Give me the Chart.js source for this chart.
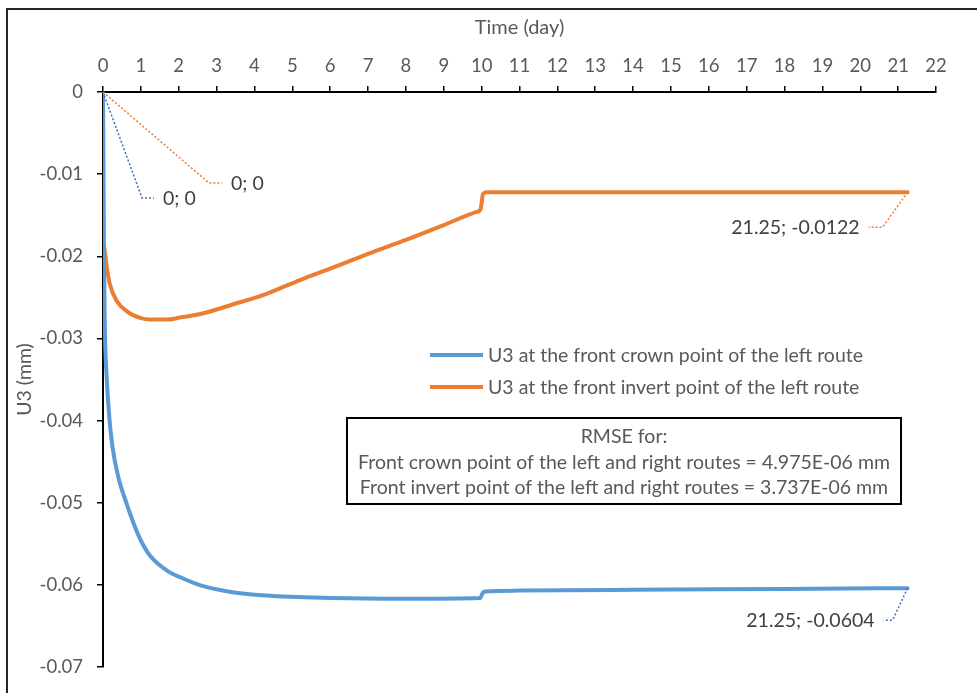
<!DOCTYPE html>
<html>
<head>
<meta charset="utf-8">
<script src="https://cdn.jsdelivr.net/npm/chart.js@4"></script>
<style>
  body { margin: 0; background: #fff; }
  canvas { display: block; }
</style>
</head>
<body>
<canvas id="chart" width="977" height="693"></canvas>
<script>
// values (time in days, U3 in mm)
const crownTime = [0, 0.02, 0.05, 0.1, 0.17, 0.25, 0.4, 0.63, 0.8, 1, 1.25, 1.7, 2.1, 2.6, 3.3, 4.3, 6, 8, 9.96, 10.04, 10.12, 11, 14, 18, 21.25];
const crownU3 = [0, -0.018, -0.029, -0.035, -0.0398, -0.0432, -0.0468, -0.0502, -0.0524, -0.0546, -0.0565, -0.0583, -0.0592, -0.0601, -0.0608, -0.0613, -0.0616, -0.0617, -0.0616, -0.0609, -0.0608, -0.0607, -0.0606, -0.0605, -0.0604];

const invertTime = [0, 0.005, 0.01, 0.035, 0.1, 0.18, 0.36, 0.63, 0.98, 1.25, 1.7, 2.1, 2.6, 3.4, 4.3, 5.2, 6, 7, 8, 9, 9.87, 9.97, 10.0, 10.03, 10.13, 12, 15, 18, 21.25];
const invertU3 = [0, -0.01, -0.0165, -0.019, -0.0213, -0.0234, -0.0254, -0.0267, -0.0275, -0.0277, -0.0277, -0.0274, -0.027, -0.0259, -0.0246, -0.0229, -0.0215, -0.0197, -0.018, -0.0162, -0.0146, -0.0143, -0.0135, -0.0125, -0.0122, -0.0122, -0.0122, -0.0122, -0.0122];

const seriesNames = ['U3 at the front crown point of the left route', 'U3 at the front invert point of the left route'];
const rmseLines = ['RMSE for:', 'Front crown point of the left and right routes = 4.975E-06 mm', 'Front invert point of the left and right routes = 3.737E-06 mm'];

const BLUE = '#5B9BD5';
const ORANGE = '#ED7D31';
const FONT = 'Lato, "Open Sans", sans-serif';
const GREY = '#595959';

function toPoints(xs, ys) {
    return xs.map((x, i) => ({ x: x, y: ys[i] }));
}

// Excel-style data labels on first/last points, legend and the RMSE box
const overlay = {
    id: 'overlay',
    beforeDraw(chart) {
        const ctx = chart.ctx;
        ctx.save();
        ctx.fillStyle = '#fff';
        ctx.fillRect(0, 0, chart.width, chart.height);
        ctx.strokeStyle = '#262626';
        ctx.lineWidth = 2;
        ctx.strokeRect(7, 9, 990, 700);
        ctx.restore();
    },
    afterDatasetsDraw(chart) {
        const ctx = chart.ctx;
        ctx.save();
        ctx.font = '19.5px ' + FONT;
        ctx.textBaseline = 'middle';

        const labels = [
            { ds: 0, idx: 0, dx: 39, dy: 106, len: 12, side: 'right', color: '#4472C4' },
            { ds: 1, idx: 0, dx: 106, dy: 91, len: 13, side: 'right', color: ORANGE },
            { ds: 1, idx: -1, dx: -25, dy: 35, len: 14, side: 'left', color: ORANGE },
            { ds: 0, idx: -1, dx: -15, dy: 32, len: 9, side: 'left', color: '#4472C4' }
        ];
        labels.forEach(l => {
            const meta = chart.getDatasetMeta(l.ds);
            const data = chart.data.datasets[l.ds].data;
            const i = l.idx < 0 ? data.length - 1 : l.idx;
            const pt = meta.data[i];
            const bx = pt.x + l.dx, by = pt.y + l.dy;
            const ex = l.side === 'right' ? bx + l.len : bx - l.len;
            ctx.strokeStyle = l.color;
            ctx.lineWidth = 1.5;
            ctx.setLineDash([2, 2]);
            ctx.beginPath();
            ctx.moveTo(pt.x, pt.y);
            ctx.lineTo(bx, by);
            ctx.lineTo(ex, by);
            ctx.stroke();
            ctx.setLineDash([]);
            ctx.fillStyle = '#404040';
            const txt = data[i].x + '; ' + data[i].y;
            if (l.side === 'right') {
                ctx.textAlign = 'left';
                ctx.fillText(txt, ex + 9, by + 1);
            } else {
                ctx.textAlign = 'right';
                ctx.fillText(txt, ex - 9, by + 1);
            }
        });

        // legend
        ctx.textAlign = 'left';
        ctx.fillStyle = GREY;
        chart.data.datasets.forEach((ds, k) => {
            const y = 355 + k * 32;
            ctx.strokeStyle = ds.borderColor;
            ctx.lineWidth = 4;
            ctx.beginPath();
            ctx.moveTo(430, y);
            ctx.lineTo(483, y);
            ctx.stroke();
            ctx.fillText(ds.label, 488, y + 1);
        });

        // RMSE box
        ctx.fillStyle = '#fff';
        ctx.fillRect(347, 418, 554, 86);
        ctx.strokeStyle = '#000';
        ctx.lineWidth = 2;
        ctx.strokeRect(347, 418, 554, 86);
        ctx.fillStyle = GREY;
        ctx.textAlign = 'center';
        rmseLines.forEach((t, k) => {
            ctx.fillText(t, 624, 437 + k * 25.5);
        });
        ctx.restore();
    }
};

new Chart(document.getElementById('chart'), {
    type: 'line',
    data: {
        datasets: [{
            label: seriesNames[0],
            data: toPoints(crownTime, crownU3),
            borderColor: BLUE,
            borderWidth: 4,
            cubicInterpolationMode: 'monotone'
        }, {
            label: seriesNames[1],
            data: toPoints(invertTime, invertU3),
            borderColor: ORANGE,
            borderWidth: 4,
            cubicInterpolationMode: 'monotone'
        }]
    },
    options: {
        responsive: false,
        animation: false,
        layout: { padding: { left: 0, top: 0, right: 41, bottom: 26 } },
        elements: { point: { radius: 0 }, line: { borderCapStyle: 'round', borderJoinStyle: 'round' } },
        plugins: {
            legend: { display: false },
            tooltip: { enabled: false }
        },
        scales: {
            x: {
                type: 'linear',
                position: 'top',
                min: 0,
                max: 22,
                ticks: { stepSize: 1, color: GREY, font: { family: FONT, size: 18.5 }, padding: 9 },
                grid: { drawOnChartArea: false, tickLength: 6, color: '#000', lineWidth: 1.5 },
                border: { color: '#000', width: 2 },
                title: { display: true, text: 'Time (day)', color: GREY, font: { family: FONT, size: 20 }, padding: { top: 16, bottom: 0 } },
                afterFit(scale) { scale.height = 92; }
            },
            y: {
                type: 'linear',
                min: -0.07,
                max: 0,
                ticks: {
                    stepSize: 0.01, color: GREY, font: { family: FONT, size: 18.5 }, padding: 14,
                    callback: v => String(Number(v.toFixed(2)))
                },
                grid: { drawOnChartArea: false, tickLength: 6, color: '#000', lineWidth: 1.5 },
                border: { color: '#000', width: 2 },
                title: { display: true, text: 'U3 (mm)', color: GREY, font: { family: FONT, size: 19.5 }, padding: { top: 13, bottom: 0 } },
                afterFit(scale) { scale.width = 103; }
            }
        }
    },
    plugins: [overlay]
});
</script>
</body>
</html>
